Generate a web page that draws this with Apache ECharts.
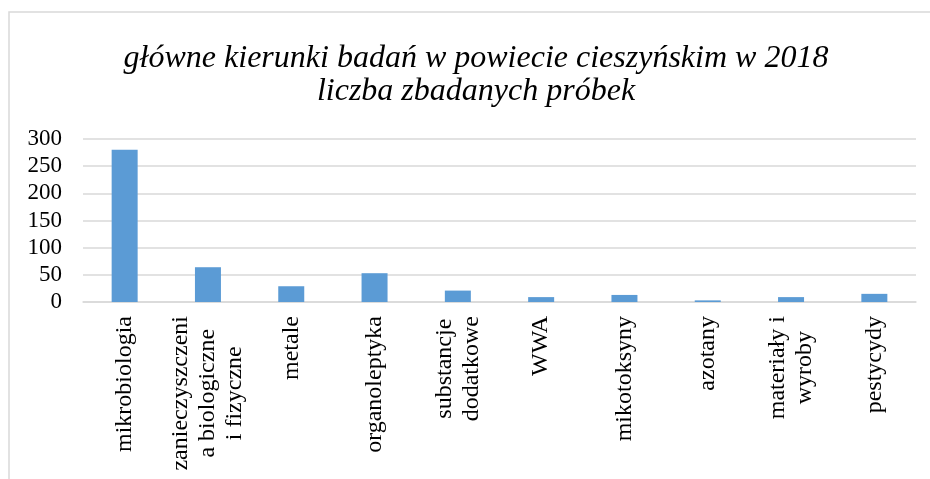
<!DOCTYPE html>
<html>
<head>
<meta charset="utf-8">
<script src="https://cdn.jsdelivr.net/npm/echarts@6/dist/echarts.min.js"></script>
<style>
    html, body { margin: 0; padding: 0; background: #fff; }
    #main { width: 930px; height: 479px; }
</style>
</head>
<body>
<div id="main"></div>
<script>
// dane
const categories = ['mikrobiologia', 'zanieczyszczeni\na biologiczne\ni fizyczne', 'metale', 'organoleptyka', 'substancje\ndodatkowe', 'WWA', 'mikotoksyny', 'azotany', 'materiały i\nwyroby', 'pestycydy']
const values = [280, 64, 29, 53, 21, 9, 13, 3, 9, 15]
const titleLines = ['główne kierunki badań w powiecie cieszyńskim w 2018', 'liczba zbadanych próbek']
const yTicks = { min: 0, max: 300, interval: 50 }

const serif = '"Liberation Serif", "Times New Roman", serif'
const chart = echarts.init(document.getElementById('main'))

chart.setOption({
    animation: false,
    color: ['#5b9bd5'],
    title: {
        text: titleLines.join('\n'),
        left: 476,
        top: 42,
        padding: 0,
        textAlign: 'center',
        textStyle: {
            fontFamily: serif,
            fontStyle: 'italic',
            fontWeight: 'normal',
            fontSize: 32,
            lineHeight: 33,
            color: '#000',
        },
    },
    graphic: [
        {
            type: 'rect',
            silent: true,
            shape: { x: 9, y: 12, width: 960, height: 500 },
            style: { fill: 'none', stroke: '#d9d9d9', lineWidth: 1.5 },
        },
    ],
    grid: {
        left: 83,
        right: 14,
        top: 139,
        bottom: 177,
    },
    xAxis: {
        type: 'category',
        data: categories,
        axisLine: { lineStyle: { color: '#d9d9d9', width: 1.5 } },
        axisTick: { show: false },
        axisLabel: {
            interval: 0,
            rotate: 90,
            margin: 14,
            formatter: (v) => v.split('\n').map((s) => `{c|${s}}`).join('\n'),
            rich: {
                c: {
                    align: 'center',
                    fontFamily: serif,
                    fontSize: 24,
                    lineHeight: 27,
                    color: '#000',
                },
            },
        },
    },
    yAxis: {
        type: 'value',
        min: yTicks.min,
        max: yTicks.max,
        interval: yTicks.interval,
        axisLine: { show: false },
        axisTick: { show: false },
        splitLine: { lineStyle: { color: '#d9d9d9', width: 1.5 } },
        axisLabel: {
            margin: 21,
            fontFamily: serif,
            fontSize: 23,
            color: '#000',
        },
    },
    series: [
        {
            type: 'bar',
            data: values,
            barWidth: 26,
        },
    ],
})
</script>
</body>
</html>
